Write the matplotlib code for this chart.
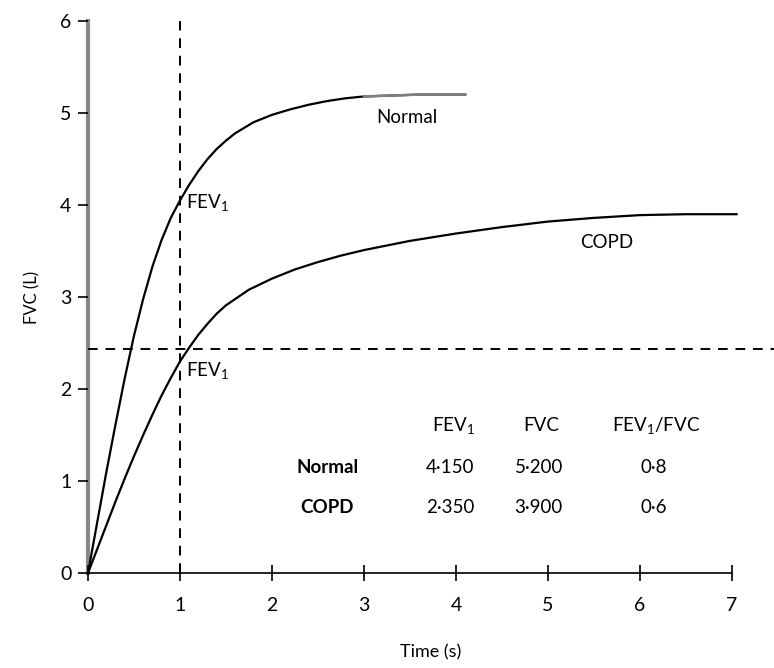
import numpy as np
import matplotlib
matplotlib.use("Agg")
import matplotlib.pyplot as plt

plt.rcParams['font.family'] = ['Lato', 'DejaVu Sans']
plt.rcParams['mathtext.fontset'] = 'custom'
plt.rcParams['mathtext.rm'] = 'Lato'
plt.rcParams['mathtext.it'] = 'Lato'

# curves
t_normal = [0, 0.1, 0.2, 0.3, 0.4, 0.5, 0.6, 0.7, 0.8, 0.9, 1.0, 1.1, 1.2, 1.3, 1.4, 1.5,
            1.6, 1.8, 2.0, 2.2, 2.4, 2.6, 2.8, 3.0, 3.3, 3.6, 4.1]
fvc_normal = [0, 0.55, 1.1, 1.62, 2.12, 2.58, 2.98, 3.33, 3.62, 3.86, 4.05, 4.22, 4.37, 4.5,
              4.61, 4.7, 4.78, 4.9, 4.98, 5.04, 5.09, 5.13, 5.16, 5.18, 5.19, 5.2, 5.2]

t_copd = [0, 0.1, 0.2, 0.3, 0.4, 0.5, 0.6, 0.7, 0.8, 0.9, 1.0, 1.1, 1.2, 1.3, 1.4, 1.5,
          1.75, 2.0, 2.25, 2.5, 2.75, 3.0, 3.5, 4.0, 4.5, 5.0, 5.5, 6.0, 6.5, 7.05]
fvc_copd = [0, 0.26, 0.52, 0.78, 1.03, 1.27, 1.5, 1.72, 1.93, 2.12, 2.3, 2.45, 2.59, 2.71,
            2.82, 2.91, 3.08, 3.2, 3.3, 3.38, 3.45, 3.51, 3.61, 3.69, 3.76, 3.82, 3.86,
            3.89, 3.9, 3.9]

fev1_time = 1.0
fev1_level = 2.43

# table
cols = ['FEV$_1$', 'FVC', 'FEV$_1$/FVC']
rows = ['Normal', 'COPD']
vals = [['4·150', '5·200', '0·8'],
        ['2·350', '3·900', '0·6']]

fig = plt.figure(figsize=(7.74, 6.68), dpi=100)
ax = fig.add_axes([88/774, 95/668, 686/774, 552/668])

tn = np.array(t_normal)
fn = np.array(fvc_normal)
ax.plot(tn, fn, color='black', lw=1.6)
ax.plot(tn[tn >= 3.0], fn[tn >= 3.0], color='#808080', lw=1.8)
ax.plot(t_copd, fvc_copd, color='black', lw=1.6)

ax.plot([fev1_time, fev1_time], [0, 6], color='black', lw=1.4, ls=(0, (5, 4)))
ax.axhline(fev1_level, color='black', lw=1.4, ls=(0, (5, 4)))

ax.set_xlim(0, 686/92)
ax.set_ylim(0, 6)
ax.set_xticks(range(0, 8))
ax.set_yticks(range(0, 7))
for s in ['top', 'right']:
    ax.spines[s].set_visible(False)
ax.spines['bottom'].set_bounds(0, 7)
ax.spines['left'].set_color('#888888')
ax.spines['left'].set_linewidth(3)
ax.spines['left'].set_zorder(0)
ax.spines['bottom'].set_linewidth(1.2)
ax.tick_params(axis='x', direction='inout', length=12, width=1.2, labelsize=14, pad=11)
ax.tick_params(axis='y', direction='out', length=7, width=1.2, labelsize=14, pad=5)
ax.set_xlabel('Time (s)', fontsize=13, labelpad=22)
ax.set_ylabel('FVC (L)', fontsize=12, labelpad=14)

ax.text(1.07, 4.03, 'FEV$_1$', fontsize=13.5, va='center', ha='left')
ax.text(1.07, 2.2, 'FEV$_1$', fontsize=13.5, va='center', ha='left')
ax.text(3.13, 4.95, 'Normal', fontsize=13.5, va='center', ha='left')
ax.text(5.35, 3.59, 'COPD', fontsize=13.5, va='center', ha='left')

col_x = [3.97, 4.93, 6.18]
row_y = [1.15, 0.71]
for c, x in zip(cols, col_x):
    ax.text(x, 1.6, c, fontsize=13.5, ha='center', va='center')
for r, y, vs in zip(rows, row_y, vals):
    ax.text(2.6, y, r, fontsize=13.5, ha='center', va='center', fontweight='bold')
    for v, x in zip(vs, col_x):
        ax.text(x - 0.03, y, v, fontsize=13.5, ha='center', va='center')

fig.savefig('out.png', dpi=100)
